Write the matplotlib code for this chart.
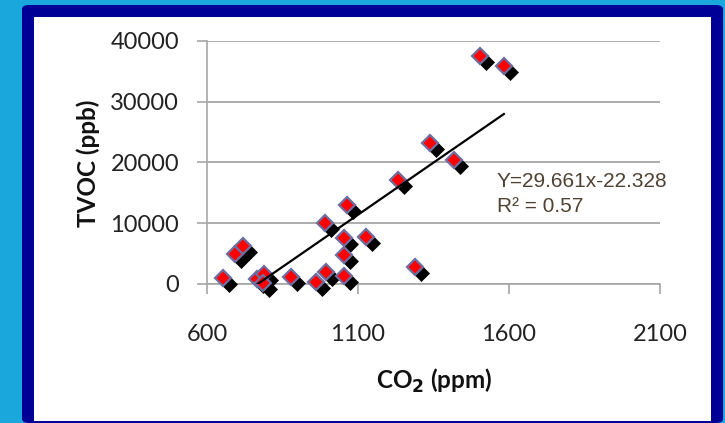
import numpy as np
import matplotlib
matplotlib.use("Agg")
import matplotlib.pyplot as plt
from matplotlib import transforms
from matplotlib.patches import FancyBboxPatch, Rectangle

# CO2 (ppm) vs TVOC (ppb)
co2 = [654, 693, 718, 764, 789, 786, 878, 962, 993, 1052, 991,
       1063, 1054, 1052, 1125, 1234, 1289, 1338, 1418, 1504, 1583]
tvoc = [940, 4900, 6200, 900, 1600, 100, 1200, 280, 2020, 1250, 9990,
        13000, 7650, 4850, 7740, 17120, 2850, 23160, 20410, 37580, 35880]

x_ticks = [600, 1100, 1600, 2100]
y_ticks = [0, 10000, 20000, 30000, 40000]
eq_text = "Y=29.661x-22.328"
r2_text = "R² = 0.57"

fig = plt.figure(figsize=(7.25, 4.23), dpi=100)
fig.patch.set_facecolor("#1AA7DC")

# navy frame and white panel
fig.patches.append(FancyBboxPatch((22 / 725, 0), 701 / 725, 418 / 423,
                                  boxstyle="round,pad=0,rounding_size=0.01",
                                  transform=fig.transFigure, facecolor="#000096",
                                  edgecolor="none", zorder=-2))
fig.patches.append(Rectangle((34 / 725, 2 / 423), 677 / 725, 404 / 423,
                             transform=fig.transFigure, facecolor="white",
                             edgecolor="none", zorder=-1))

ax = fig.add_axes([207 / 725, 1 - 284 / 423, 453 / 725, 243 / 423])
ax.set_facecolor("none")
ax.set_xlim(600, 2100)
ax.set_ylim(0, 40000)
ax.set_xticks(x_ticks)
ax.set_yticks(y_ticks)

for side in ["top", "right"]:
    ax.spines[side].set_visible(False)
for side in ["left", "bottom"]:
    ax.spines[side].set_color("#A6A6A6")
    ax.spines[side].set_linewidth(1.2)
ax.yaxis.grid(True, color="#A0A0A0", linewidth=1.2)
ax.set_axisbelow(True)

ax.tick_params(axis="both", color="#A6A6A6", width=1.2, length=7,
               labelsize=17, labelcolor="#222222")
ax.tick_params(axis="y", pad=13)
ax.tick_params(axis="x", pad=22)
for lab in ax.get_xticklabels() + ax.get_yticklabels():
    lab.set_family("Lato")

# markers: black shadow offset down-right, red diamond on top
shadow = transforms.offset_copy(ax.transData, fig=fig, x=6, y=-6, units="dots")
ax.plot(co2, tvoc, linestyle="none", marker="D", markersize=8.2,
        color="black", markeredgecolor="black", markeredgewidth=0.5,
        transform=shadow, clip_on=False, zorder=3)
ax.plot(co2, tvoc, linestyle="none", marker="D", markersize=8.2,
        markerfacecolor="#FF0000", markeredgecolor="#6E6EA0",
        markeredgewidth=1.6, clip_on=False, zorder=4)

# linear trendline over the data range, clipped at the axis
slope, intercept = np.polyfit(co2, tvoc, 1)
xs = np.array([min(co2), max(co2)])
ax.plot(xs, slope * xs + intercept, color="black", linewidth=1.6, zorder=5)

ax.text(497, 423 - 187, eq_text, transform=None, fontsize=15,
        family="Liberation Sans", color="#4F4233", va="baseline")
ax.text(497, 423 - 212, r2_text, transform=None, fontsize=15,
        family="Liberation Sans", color="#4F4233", va="baseline")

fig.text(88 / 725, 1 - 163 / 423, "TVOC (ppb)", rotation=90, fontsize=17.5,
         fontweight="bold", family="Lato", ha="center", va="center", color="#111111")
fig.text(434 / 725, 1 - 381 / 423, "CO$_\\mathbf{2}$ (ppm)", fontsize=17.5,
         fontweight="bold", family="Lato", ha="center", va="center", color="#111111")

fig.savefig("out.png", dpi=100, facecolor=fig.get_facecolor())
